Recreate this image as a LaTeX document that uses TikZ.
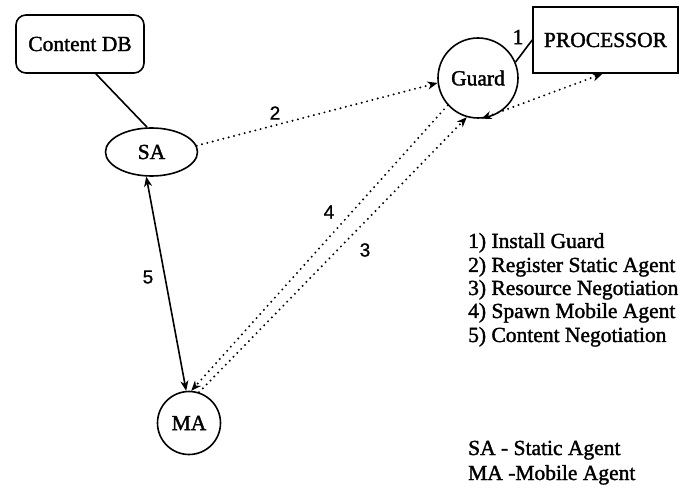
\documentclass[tikz,border=0pt]{standalone}
\usepackage{fontspec}
\setmainfont{Liberation Serif}[FakeBold=1.6]
\newfontfamily\labfont{Liberation Sans}[FakeBold=1]
\usetikzlibrary{arrows.meta,shapes.geometric}
\tikzset{
  mainfont/.style={font=\fontsize{21.5}{24}\selectfont},
  numlab/.style={font=\labfont\fontsize{19}{20}\selectfont, inner sep=0pt},
  legend/.style={font=\fontsize{21.5}{24}\selectfont, anchor=base west, inner sep=0pt},
  tipa/.style={-{Stealth[length=10pt,width=8pt,inset=3pt]}},
  tipb/.style={{Stealth[length=10pt,width=8pt,inset=3pt]}-{Stealth[length=10pt,width=8pt,inset=3pt]}},
  dotline/.style={line width=2.2pt, dash pattern=on 0pt off 5.5pt, line cap=round},
  solidline/.style={line width=1.6pt},
  shapeline/.style={draw, line width=1.6pt, inner sep=0pt},
}
\begin{document}
\begin{tikzpicture}[x=1pt,y=-1pt]
\path[use as bounding box, fill=white] (0,0) rectangle (694,494);
% nodes
\node[mainfont, shapeline, rounded corners=10pt, minimum width=128pt, minimum height=58pt] (db) at (80,44) {Content DB};
\node[mainfont, shapeline, ellipse, minimum width=92pt, minimum height=48pt] (sa) at (151.5,152) {SA};
\node[mainfont, shapeline, circle, minimum size=80pt] (guard) at (478,78) {Guard};
\node[mainfont, shapeline, minimum width=145pt, minimum height=66pt] (proc) at (605.5,40) {PROCESSOR};
\node[mainfont, shapeline, circle, minimum size=63pt] (ma) at (189,423) {MA};
% connectors
\draw[solidline] (db.-62) -- (sa.100);
\draw[solidline] (guard.23) -- (proc.west);
\draw[dotline, tipa] (sa.8) -- (guard.187);
\draw[dotline, tipb] (guard.275) -- ([xshift=-3pt]proc.south);
\draw[dotline, tipa] (guard.222) -- (ma.86);
\draw[dotline, tipa] (ma.72) -- (guard.254);
\draw[solidline, tipb] (sa.258) -- (ma.95);
% labels
\node[mainfont, inner sep=0pt] (l1) at (518,37) {1};
\node[numlab] (l2) at (275,113) {2};
\node[numlab] (l4) at (329,212) {4};
\node[numlab] (l3) at (365,250) {3};
\node[numlab] (l5) at (148,277) {5};
% legend
\node[legend] (g1) at (468,248) {1) Install Guard};
\node[legend] (g2) at (468,272) {2) Register Static Agent};
\node[legend] (g3) at (468,295) {3) Resource Negotiation};
\node[legend] (g4) at (468,318) {4) Spawn Mobile Agent};
\node[legend] (g5) at (468,342) {5) Content Negotiation};
\node[legend] (g6) at (468,455) {SA - Static Agent};
\node[legend] (g7) at (468,480) {MA -Mobile Agent};
\end{tikzpicture}
\end{document}
